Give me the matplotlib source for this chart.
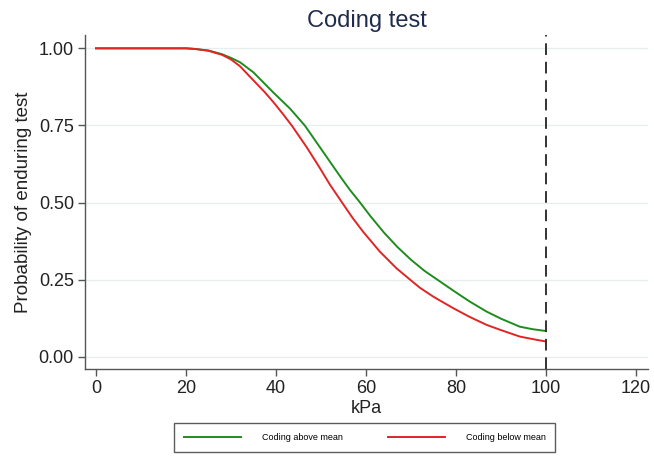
import matplotlib
matplotlib.use("Agg")
import matplotlib.pyplot as plt

plt.rcParams['font.family'] = ['Liberation Sans', 'DejaVu Sans']

# Data (survival-type curves)
x_above = [0, 20, 22, 25, 28, 30, 32, 35, 37.5, 39.4, 43.1, 46.4, 48.5, 50.5, 52.5, 54.5, 56.5, 58.7,
           61, 64, 67, 70, 73, 76, 79.4, 83, 86.8, 90, 94.2, 97, 100]
y_above = [1, 1, 0.998, 0.993, 0.981, 0.969, 0.955, 0.922, 0.885, 0.857, 0.805, 0.75, 0.706, 0.664,
           0.622, 0.58, 0.54, 0.5, 0.456, 0.403, 0.356, 0.315, 0.279, 0.249, 0.215, 0.18, 0.147,
           0.124, 0.098, 0.09, 0.084]

x_below = [0, 20, 22, 25, 28, 30, 32, 35, 37.5, 39.4, 41.5, 43.5, 46.8, 49.5, 52, 54.7, 57, 59.4,
           63.1, 66.8, 70, 72, 75, 79.4, 83, 86.8, 90, 94.2, 97, 100]
y_below = [1, 1, 0.998, 0.992, 0.979, 0.964, 0.942, 0.896, 0.858, 0.826, 0.788, 0.75, 0.68, 0.618,
           0.558, 0.5, 0.451, 0.405, 0.341, 0.287, 0.248, 0.224, 0.195, 0.158, 0.13, 0.104, 0.087,
           0.066, 0.058, 0.05]

x_ticks = [0, 20, 40, 60, 80, 100, 120]
y_ticks = [0.0, 0.25, 0.5, 0.75, 1.0]
y_ticklabels = ["0.00", "0.25", "0.50", "0.75", "1.00"]
cutoff = 100

fig = plt.figure(figsize=(6.54, 4.57), dpi=100)
ax = fig.add_axes([0.130, 0.1926, 0.861, 0.730])

for y in y_ticks:
    ax.axhline(y, color='#e6eeef', lw=1.0, zorder=0)

ax.plot(x_above, y_above, color='#1e8c1e', lw=1.4, label='Coding above mean', zorder=3)
ax.plot(x_below, y_below, color='#e02525', lw=1.4, label='Coding below mean', zorder=3)
ax.axvline(cutoff, color='#333333', lw=1.4, ls=(0, (6, 3.5)), zorder=4)

ax.set_xlim(-2.44, 122.7)
ax.set_ylim(-0.039, 1.042)
ax.set_xticks(x_ticks)
ax.set_yticks(y_ticks)
ax.set_yticklabels(y_ticklabels)

for s in ['top', 'right']:
    ax.spines[s].set_visible(False)
for s in ['left', 'bottom']:
    ax.spines[s].set_color('#555555')
    ax.spines[s].set_linewidth(1.0)
ax.tick_params(axis='both', direction='out', length=5, width=1, color='#555555',
               labelsize=13, labelcolor='#222222', pad=3)

ax.set_xlabel('kPa', fontsize=13, color='#222222', labelpad=2)
ax.set_ylabel('Probability of enduring test', fontsize=13.5, color='#222222', labelpad=5)
ax.set_title('Coding test', fontsize=17, color='#1f2d4d', pad=6)

leg = fig.legend(loc='center', bbox_to_anchor=(0.558, 0.042), ncol=2, fontsize=6.5,
                 handlelength=6.3, columnspacing=5.0, frameon=True, fancybox=False,
                 borderpad=1.1, handletextpad=2.3)
leg.get_frame().set_edgecolor('#333333')
leg.get_frame().set_linewidth(1.0)

fig.savefig('out.png', dpi=100)
